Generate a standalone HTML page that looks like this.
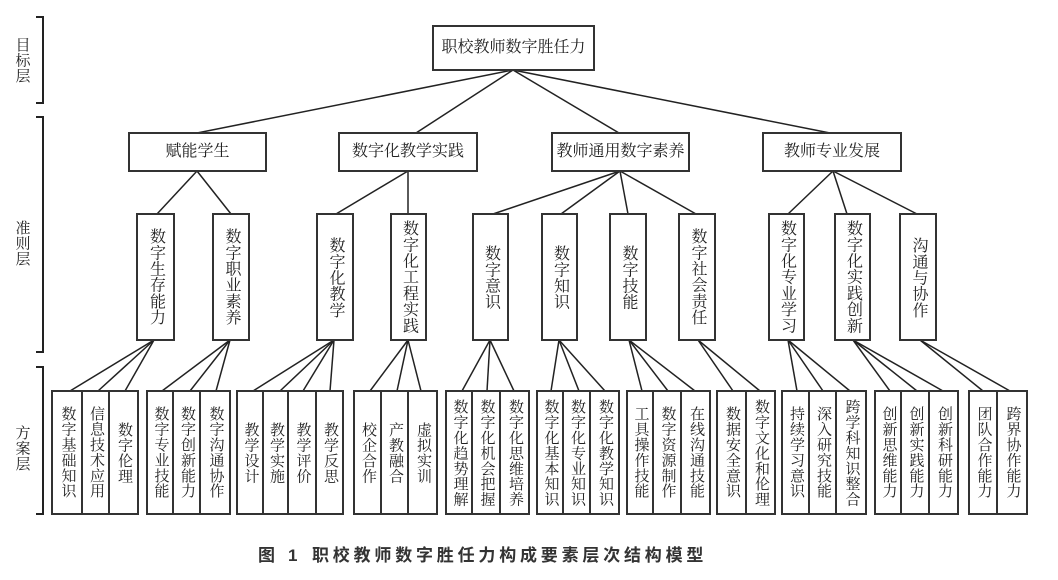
<!DOCTYPE html>
<html>
<head>
<meta charset="utf-8">
<style>
  html,body{margin:0;padding:0;background:#fff;}
  #wrap{position:relative;width:1058px;height:580px;overflow:hidden;background:#fff;
    font-family:"Liberation Serif","Noto Serif CJK SC","Noto Serif CJK JP","Noto Serif CJK TC",serif;color:#222;}
  svg{position:absolute;left:0;top:0;}
  .t{position:absolute;display:flex;align-items:center;justify-content:center;}
  .v{writing-mode:vertical-rl;line-height:1;white-space:nowrap;}
  .f15{font-size:15px;letter-spacing:0.4px;}
  .f16{font-size:16px;letter-spacing:0.2px;}
  .h{font-size:16px;white-space:nowrap;line-height:1;}
  .cap{position:absolute;font-family:"Liberation Sans","Noto Sans CJK SC",sans-serif;font-weight:bold;font-size:17px;color:#333;line-height:1;white-space:nowrap;}
</style>
</head>
<body>
<div id="wrap">
<svg width="1058" height="580" viewBox="0 0 1058 580">
  <g fill="none" stroke="#222" stroke-width="2">
    <path d="M36,17 H43 V103 H36"/>
    <path d="M36,117 H43 V352 H36"/>
    <path d="M36,367 H43 V514 H36"/>
  </g>
  <g stroke="#222" stroke-width="1.5" fill="none">
    <line x1="513" y1="70" x2="197" y2="133"/>
    <line x1="513" y1="70" x2="416" y2="133"/>
    <line x1="513" y1="70" x2="619" y2="133"/>
    <line x1="513" y1="70" x2="830" y2="133"/>
    <line x1="197" y1="171" x2="157" y2="214"/>
    <line x1="197" y1="171" x2="231" y2="214"/>
    <line x1="408" y1="171" x2="336" y2="214"/>
    <line x1="408" y1="171" x2="408" y2="214"/>
    <line x1="620" y1="171" x2="493" y2="214"/>
    <line x1="620" y1="171" x2="561" y2="214"/>
    <line x1="620" y1="171" x2="628" y2="214"/>
    <line x1="620" y1="171" x2="696" y2="214"/>
    <line x1="833" y1="171" x2="788" y2="214"/>
    <line x1="833" y1="171" x2="847" y2="214"/>
    <line x1="833" y1="171" x2="917" y2="214"/>
    <line x1="154" y1="340" x2="70" y2="391"/>
    <line x1="154" y1="340" x2="98" y2="391"/>
    <line x1="154" y1="340" x2="125" y2="391"/>
    <line x1="230" y1="340" x2="162" y2="391"/>
    <line x1="230" y1="340" x2="190" y2="391"/>
    <line x1="230" y1="340" x2="216" y2="391"/>
    <line x1="334" y1="340" x2="253" y2="391"/>
    <line x1="334" y1="340" x2="280" y2="391"/>
    <line x1="334" y1="340" x2="303" y2="391"/>
    <line x1="334" y1="340" x2="330" y2="391"/>
    <line x1="408" y1="340" x2="370" y2="391"/>
    <line x1="408" y1="340" x2="397" y2="391"/>
    <line x1="408" y1="340" x2="421" y2="391"/>
    <line x1="490" y1="340" x2="462" y2="391"/>
    <line x1="490" y1="340" x2="487" y2="391"/>
    <line x1="490" y1="340" x2="514" y2="391"/>
    <line x1="559" y1="340" x2="551" y2="391"/>
    <line x1="559" y1="340" x2="579" y2="391"/>
    <line x1="559" y1="340" x2="605" y2="391"/>
    <line x1="629" y1="340" x2="642" y2="391"/>
    <line x1="629" y1="340" x2="668" y2="391"/>
    <line x1="629" y1="340" x2="695" y2="391"/>
    <line x1="698" y1="340" x2="733" y2="391"/>
    <line x1="698" y1="340" x2="760" y2="391"/>
    <line x1="788" y1="340" x2="797" y2="391"/>
    <line x1="788" y1="340" x2="823" y2="391"/>
    <line x1="788" y1="340" x2="850" y2="391"/>
    <line x1="853" y1="340" x2="890" y2="391"/>
    <line x1="853" y1="340" x2="917" y2="391"/>
    <line x1="853" y1="340" x2="943" y2="391"/>
    <line x1="920" y1="340" x2="983" y2="391"/>
    <line x1="920" y1="340" x2="1010" y2="391"/>
  </g>
  <g stroke="#333" stroke-width="2" fill="#fff">
    <rect x="433" y="26" width="161" height="44"/>
    <rect x="129" y="133" width="137" height="38"/>
    <rect x="339" y="133" width="138" height="38"/>
    <rect x="552" y="133" width="137" height="38"/>
    <rect x="763" y="133" width="138" height="38"/>
    <rect x="137" y="214" width="37" height="126"/>
    <rect x="213" y="214" width="36" height="126"/>
    <rect x="317" y="214" width="36" height="126"/>
    <rect x="391" y="214" width="35" height="126"/>
    <rect x="473" y="214" width="35" height="126"/>
    <rect x="542" y="214" width="35" height="126"/>
    <rect x="610" y="214" width="36" height="126"/>
    <rect x="679" y="214" width="36" height="126"/>
    <rect x="769" y="214" width="35" height="126"/>
    <rect x="835" y="214" width="35" height="126"/>
    <rect x="900" y="214" width="36" height="126"/>
    <rect x="52" y="391" width="86" height="123"/>
    <rect x="147" y="391" width="83" height="123"/>
    <rect x="237" y="391" width="106" height="123"/>
    <rect x="354" y="391" width="83" height="123"/>
    <rect x="446" y="391" width="83" height="123"/>
    <rect x="537" y="391" width="82" height="123"/>
    <rect x="627" y="391" width="83" height="123"/>
    <rect x="717" y="391" width="58" height="123"/>
    <rect x="782" y="391" width="84" height="123"/>
    <rect x="875" y="391" width="83" height="123"/>
    <rect x="969" y="391" width="58" height="123"/>
  </g>
  <g stroke="#333" stroke-width="2">
    <line x1="82" y1="391" x2="82" y2="514"/>
    <line x1="109" y1="391" x2="109" y2="514"/>
    <line x1="173" y1="391" x2="173" y2="514"/>
    <line x1="200" y1="391" x2="200" y2="514"/>
    <line x1="263" y1="391" x2="263" y2="514"/>
    <line x1="288" y1="391" x2="288" y2="514"/>
    <line x1="316" y1="391" x2="316" y2="514"/>
    <line x1="381" y1="391" x2="381" y2="514"/>
    <line x1="408" y1="391" x2="408" y2="514"/>
    <line x1="472" y1="391" x2="472" y2="514"/>
    <line x1="500" y1="391" x2="500" y2="514"/>
    <line x1="563" y1="391" x2="563" y2="514"/>
    <line x1="590" y1="391" x2="590" y2="514"/>
    <line x1="653" y1="391" x2="653" y2="514"/>
    <line x1="681" y1="391" x2="681" y2="514"/>
    <line x1="746" y1="391" x2="746" y2="514"/>
    <line x1="809" y1="391" x2="809" y2="514"/>
    <line x1="836" y1="391" x2="836" y2="514"/>
    <line x1="901" y1="391" x2="901" y2="514"/>
    <line x1="929" y1="391" x2="929" y2="514"/>
    <line x1="997" y1="391" x2="997" y2="514"/>
  </g>
</svg>

<div class="t" style="left:8px;top:30px;width:26px;height:60px;"><span class="v f15">目标层</span></div>
<div class="t" style="left:8px;top:213px;width:26px;height:60px;"><span class="v f15">准则层</span></div>
<div class="t" style="left:8px;top:418px;width:26px;height:60px;"><span class="v f15">方案层</span></div>

<div class="t" style="left:433px;top:26px;width:161px;height:44px;"><span class="h">职校教师数字胜任力</span></div>

<div class="t" style="left:129px;top:133px;width:137px;height:38px;"><span class="h">赋能学生</span></div>
<div class="t" style="left:339px;top:133px;width:138px;height:38px;"><span class="h">数字化教学实践</span></div>
<div class="t" style="left:552px;top:133px;width:137px;height:38px;"><span class="h">教师通用数字素养</span></div>
<div class="t" style="left:763px;top:133px;width:138px;height:38px;"><span class="h">教师专业发展</span></div>

<div class="t" style="left:137px;top:214px;width:37px;height:126px;"><span class="v f16">数字生存能力</span></div>
<div class="t" style="left:213px;top:214px;width:36px;height:126px;"><span class="v f16">数字职业素养</span></div>
<div class="t" style="left:317px;top:214px;width:36px;height:126px;"><span class="v f16">数字化教学</span></div>
<div class="t" style="left:391px;top:214px;width:35px;height:126px;"><span class="v f16">数字化工程实践</span></div>
<div class="t" style="left:473px;top:214px;width:35px;height:126px;"><span class="v f16">数字意识</span></div>
<div class="t" style="left:542px;top:214px;width:35px;height:126px;"><span class="v f16">数字知识</span></div>
<div class="t" style="left:610px;top:214px;width:36px;height:126px;"><span class="v f16">数字技能</span></div>
<div class="t" style="left:679px;top:214px;width:36px;height:126px;"><span class="v f16">数字社会责任</span></div>
<div class="t" style="left:769px;top:214px;width:35px;height:126px;"><span class="v f16">数字化专业学习</span></div>
<div class="t" style="left:835px;top:214px;width:35px;height:126px;"><span class="v f16">数字化实践创新</span></div>
<div class="t" style="left:900px;top:214px;width:36px;height:126px;"><span class="v f16">沟通与协作</span></div>

<div class="t" style="left:52px;top:391px;width:30px;height:123px;"><span class="v f15">数字基础知识</span></div>
<div class="t" style="left:82px;top:391px;width:27px;height:123px;"><span class="v f15">信息技术应用</span></div>
<div class="t" style="left:109px;top:391px;width:29px;height:123px;"><span class="v f15">数字伦理</span></div>

<div class="t" style="left:147px;top:391px;width:26px;height:123px;"><span class="v f15">数字专业技能</span></div>
<div class="t" style="left:173px;top:391px;width:27px;height:123px;"><span class="v f15">数字创新能力</span></div>
<div class="t" style="left:200px;top:391px;width:30px;height:123px;"><span class="v f15">数字沟通协作</span></div>

<div class="t" style="left:237px;top:391px;width:26px;height:123px;"><span class="v f15">教学设计</span></div>
<div class="t" style="left:263px;top:391px;width:25px;height:123px;"><span class="v f15">教学实施</span></div>
<div class="t" style="left:288px;top:391px;width:28px;height:123px;"><span class="v f15">教学评价</span></div>
<div class="t" style="left:316px;top:391px;width:27px;height:123px;"><span class="v f15">教学反思</span></div>

<div class="t" style="left:354px;top:391px;width:27px;height:123px;"><span class="v f15">校企合作</span></div>
<div class="t" style="left:381px;top:391px;width:27px;height:123px;"><span class="v f15">产教融合</span></div>
<div class="t" style="left:408px;top:391px;width:29px;height:123px;"><span class="v f15">虚拟实训</span></div>

<div class="t" style="left:446px;top:391px;width:26px;height:123px;"><span class="v f15">数字化趋势理解</span></div>
<div class="t" style="left:472px;top:391px;width:28px;height:123px;"><span class="v f15">数字化机会把握</span></div>
<div class="t" style="left:500px;top:391px;width:29px;height:123px;"><span class="v f15">数字化思维培养</span></div>

<div class="t" style="left:537px;top:391px;width:26px;height:123px;"><span class="v f15">数字化基本知识</span></div>
<div class="t" style="left:563px;top:391px;width:27px;height:123px;"><span class="v f15">数字化专业知识</span></div>
<div class="t" style="left:590px;top:391px;width:29px;height:123px;"><span class="v f15">数字化教学知识</span></div>

<div class="t" style="left:627px;top:391px;width:26px;height:123px;"><span class="v f15">工具操作技能</span></div>
<div class="t" style="left:653px;top:391px;width:28px;height:123px;"><span class="v f15">数字资源制作</span></div>
<div class="t" style="left:681px;top:391px;width:29px;height:123px;"><span class="v f15">在线沟通技能</span></div>

<div class="t" style="left:717px;top:391px;width:29px;height:123px;"><span class="v f15">数据安全意识</span></div>
<div class="t" style="left:746px;top:391px;width:29px;height:123px;"><span class="v f15">数字文化和伦理</span></div>

<div class="t" style="left:782px;top:391px;width:27px;height:123px;"><span class="v f15">持续学习意识</span></div>
<div class="t" style="left:809px;top:391px;width:27px;height:123px;"><span class="v f15">深入研究技能</span></div>
<div class="t" style="left:836px;top:391px;width:30px;height:123px;"><span class="v f15">跨学科知识整合</span></div>

<div class="t" style="left:875px;top:391px;width:26px;height:123px;"><span class="v f15">创新思维能力</span></div>
<div class="t" style="left:901px;top:391px;width:28px;height:123px;"><span class="v f15">创新实践能力</span></div>
<div class="t" style="left:929px;top:391px;width:29px;height:123px;"><span class="v f15">创新科研能力</span></div>

<div class="t" style="left:969px;top:391px;width:28px;height:123px;"><span class="v f15">团队合作能力</span></div>
<div class="t" style="left:997px;top:391px;width:30px;height:123px;"><span class="v f15">跨界协作能力</span></div>

<div class="cap" style="left:258px;top:547px;">图</div>
<div class="cap" style="left:288px;top:547px;">1</div>
<div class="cap" style="left:312px;top:547px;letter-spacing:3.8px;">职校教师数字胜任力构成要素层次结构模型</div>
</div>
</body>
</html>
